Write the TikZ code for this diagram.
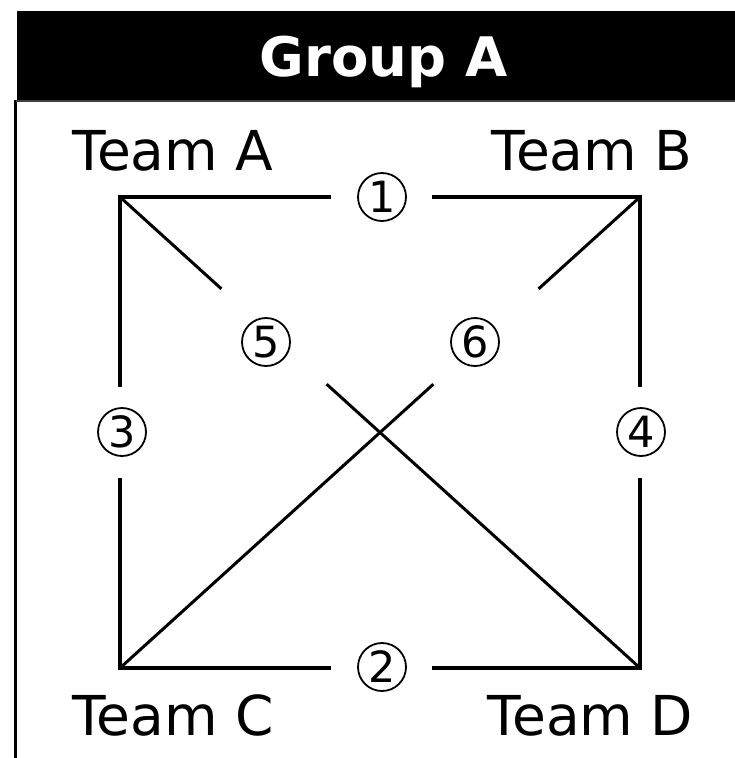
\documentclass[tikz,border=0pt]{standalone}
\usepackage{fontspec}
\setmainfont{DejaVu Sans}
\usetikzlibrary{calc}
\begin{document}
\begin{tikzpicture}[x=1pt,y=-1pt,
  side/.style={line width=3.6pt,line join=miter,line cap=butt},
  diag/.style={line width=3pt,line cap=butt},
  team/.style={inner sep=0pt,anchor=base,font=\fontsize{55}{60}\selectfont},
  num/.style={circle,draw,line width=1.8pt,inner sep=0pt,minimum size=48pt,anchor=center,font=\fontsize{43}{50}\selectfont},
  title/.style={inner sep=0pt,anchor=base,text=white,font=\fontsize{54.5}{60}\selectfont\bfseries}]
\useasboundingbox (0,0) rectangle (735,758);
% header
\fill[black] (17,11) rectangle (735,101);
\draw[line width=3pt] (15,99.5) -- (15,758);
\draw[line width=1.5pt,black!75] (16,101) -- (735,101);
\node[title] (title) at (383.5,76) {Group A};
% teams
\node[team] (tA) at (173,170) {Team A};
\node[team] (tB) at (592,170) {Team B};
\node[team] (tC) at (173,735) {Team C};
\node[team] (tD) at (590.5,735) {Team D};
% corners
\coordinate (A) at (120,197);
\coordinate (B) at (640,197);
\coordinate (C) at (120,668);
\coordinate (D) at (640,668);
% labels
\node[num] (n1) at (382,197) {1};
\node[num] (n2) at (382,667) {2};
\node[num] (n3) at (122,432) {3};
\node[num] (n4) at (641,432) {4};
\node[num] (n5) at (266,342) {5};
\node[num] (n6) at (475,342) {6};
% sides
\coordinate (ab1) at (331,197); \coordinate (ab2) at (432,197);
\coordinate (cd1) at (331,668); \coordinate (cd2) at (432,668);
\coordinate (ac1) at (120,387); \coordinate (ac2) at (120,478);
\coordinate (bd1) at (640,387); \coordinate (bd2) at (640,478);
\draw[side] (ab1) -- (A) -- (ac1);
\draw[side] (ab2) -- (B) -- (bd1);
\draw[side] (ac2) -- (C) -- (cd1);
\draw[side] (bd2) -- (D) -- (cd2);
% diagonals
\draw[diag] (A) -- ($(A)!0.195!(D)$);
\draw[diag] ($(A)!0.3975!(D)$) -- (D);
\draw[diag] (B) -- ($(B)!0.195!(C)$);
\draw[diag] ($(B)!0.3975!(C)$) -- (C);
\end{tikzpicture}
\end{document}
